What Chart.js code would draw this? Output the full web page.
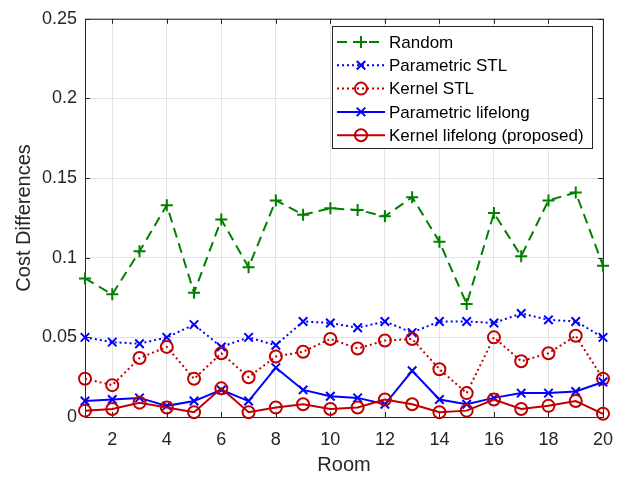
<!DOCTYPE html>
<html>
<head>
<meta charset="utf-8">
<script src="https://cdn.jsdelivr.net/npm/chart.js@4.4.1/dist/chart.umd.min.js"></script>
<style>
  html, body { margin: 0; padding: 0; background: #fff; }
</style>
</head>
<body>
<canvas id="grafica" width="625" height="477"></canvas>
<script>
const rooms = [1, 2, 3, 4, 5, 6, 7, 8, 9, 10, 11, 12, 13, 14, 15, 16, 17, 18, 19, 20];

const random = [0.087, 0.077, 0.104, 0.133, 0.078, 0.124, 0.094, 0.136, 0.127, 0.131,
  0.130, 0.126, 0.138, 0.110, 0.071, 0.128, 0.101, 0.136, 0.141, 0.095];
const parametricSTL = [0.050, 0.047, 0.046, 0.050, 0.058, 0.044, 0.050, 0.045, 0.060, 0.059,
  0.056, 0.060, 0.053, 0.060, 0.060, 0.059, 0.065, 0.061, 0.060, 0.050];
const kernelSTL = [0.024, 0.020, 0.037, 0.044, 0.024, 0.040, 0.025, 0.038, 0.041, 0.049,
  0.043, 0.048, 0.049, 0.030, 0.015, 0.050, 0.035, 0.040, 0.051, 0.024];
const parametricLifelong = [0.010, 0.011, 0.012, 0.007, 0.010, 0.017, 0.010, 0.031, 0.017, 0.013,
  0.012, 0.008, 0.029, 0.011, 0.008, 0.012, 0.015, 0.015, 0.016, 0.022];
const kernelLifelong = [0.004, 0.005, 0.009, 0.006, 0.003, 0.018, 0.003, 0.006, 0.008, 0.005,
  0.006, 0.011, 0.008, 0.003, 0.004, 0.011, 0.005, 0.007, 0.010, 0.002];

const yTicks = [0, 0.05, 0.1, 0.15, 0.2, 0.25];

const VERDE = "rgb(0,128,0)";
const AZUL = "rgb(0,0,255)";
const ROJO = "rgb(192,0,0)";
const EJE = "#262626";

const serie = (label, valores, color, dash, forma, orden) => ({
  label,
  data: rooms.map((r, i) => ({ x: r, y: valores[i] })),
  borderColor: color,
  backgroundColor: "rgba(0,0,0,0)",
  borderWidth: 2,
  borderDash: dash,
  pointStyle: forma,
  pointRadius: 6,
  pointBorderWidth: 2,
  pointBorderColor: color,
  pointBackgroundColor: "rgba(0,0,0,0)",
  showLine: true,
  tension: 0,
  clip: false,
  order: orden
});

// caja de ejes con marcas hacia dentro (estilo MATLAB)
const cajaEjes = {
  id: "cajaEjes",
  beforeDatasetsDraw(chart) {
    const { ctx, chartArea: a, scales } = chart;
    ctx.save();
    ctx.strokeStyle = EJE;
    ctx.lineWidth = 1;
    ctx.strokeRect(a.left + 0.5, a.top + 0.5, a.right - a.left, a.bottom - a.top);
    const tl = 5;
    ctx.beginPath();
    scales.x.ticks.forEach(t => {
      const px = Math.round(scales.x.getPixelForValue(t.value)) + 0.5;
      ctx.moveTo(px, a.bottom); ctx.lineTo(px, a.bottom - tl);
      ctx.moveTo(px, a.top); ctx.lineTo(px, a.top + tl);
    });
    scales.y.ticks.forEach(t => {
      const py = Math.round(scales.y.getPixelForValue(t.value)) + 0.5;
      ctx.moveTo(a.left, py); ctx.lineTo(a.left + tl, py);
      ctx.moveTo(a.right, py); ctx.lineTo(a.right - tl, py);
    });
    ctx.stroke();
    ctx.restore();
  }
};

// leyenda con muestra de línea y marcador
const leyenda = {
  id: "leyenda",
  afterDraw(chart) {
    const { ctx } = chart;
    const x0 = 332, y0 = 26, w = 260, h = 122;
    ctx.save();
    ctx.fillStyle = "#fff";
    ctx.fillRect(x0, y0, w, h);
    ctx.strokeStyle = EJE;
    ctx.lineWidth = 1;
    ctx.strokeRect(x0 + 0.5, y0 + 0.5, w, h);
    ctx.font = "17px 'Liberation Sans', Arial, sans-serif";
    ctx.textBaseline = "middle";
    chart.data.datasets.forEach((ds, i) => {
      const y = y0 + 16 + i * 23.3;
      ctx.strokeStyle = ds.borderColor;
      ctx.lineWidth = 2;
      ctx.setLineDash(ds.borderDash);
      ctx.beginPath();
      ctx.moveTo(337, y); ctx.lineTo(385, y);
      ctx.stroke();
      ctx.setLineDash([]);
      ctx.fillStyle = "rgba(0,0,0,0)";
      Chart.helpers.drawPoint(ctx, { pointStyle: ds.pointStyle, radius: 6, rotation: 0, borderWidth: 2 }, 361, y);
      ctx.fillStyle = "#000";
      ctx.fillText(ds.label, 389, y + 1);
    });
    ctx.restore();
  }
};

new Chart(document.getElementById("grafica"), {
  type: "line",
  data: {
    datasets: [
      serie("Random", random, VERDE, [10, 6], "cross", 5),
      serie("Parametric STL", parametricSTL, AZUL, [2, 3], "crossRot", 4),
      serie("Kernel STL", kernelSTL, ROJO, [2, 3], "circle", 3),
      serie("Parametric lifelong", parametricLifelong, AZUL, [], "crossRot", 2),
      serie("Kernel lifelong (proposed)", kernelLifelong, ROJO, [], "circle", 1)
    ]
  },
  options: {
    responsive: false,
    animation: false,
    devicePixelRatio: 1,
    layout: { padding: { top: 13, right: 21, left: 0, bottom: 0 } },
    plugins: { legend: { display: false }, tooltip: { enabled: false } },
    scales: {
      x: {
        type: "linear",
        min: 1,
        max: 20,
        afterBuildTicks: s => { s.ticks = rooms.filter(r => r % 2 === 0).map(v => ({ value: v })); },
        afterFit: s => { s.height = 60; },
        border: { display: false },
        grid: { color: "#e3e3e3", drawTicks: false },
        ticks: { color: EJE, padding: 12, maxRotation: 0, font: { family: "'Liberation Sans', Arial", size: 18 } },
        title: {
          display: true, text: "Room", color: EJE,
          padding: { top: 0, bottom: 0 },
          font: { family: "'Liberation Sans', Arial", size: 20 }
        }
      },
      y: {
        min: 0,
        max: 0.25,
        afterBuildTicks: s => { s.ticks = yTicks.map(v => ({ value: v })); },
        afterFit: s => { s.width = 85; },
        border: { display: false },
        grid: { color: "#e3e3e3", drawTicks: false },
        ticks: { color: EJE, padding: 8, font: { family: "'Liberation Sans', Arial", size: 18 },
          callback: v => String(+v.toFixed(2)) },
        title: {
          display: true, text: "Cost Differences", color: EJE,
          padding: { top: 12, bottom: 0 },
          font: { family: "'Liberation Sans', Arial", size: 20 }
        }
      }
    }
  },
  plugins: [cajaEjes, leyenda]
});
</script>
</body>
</html>
